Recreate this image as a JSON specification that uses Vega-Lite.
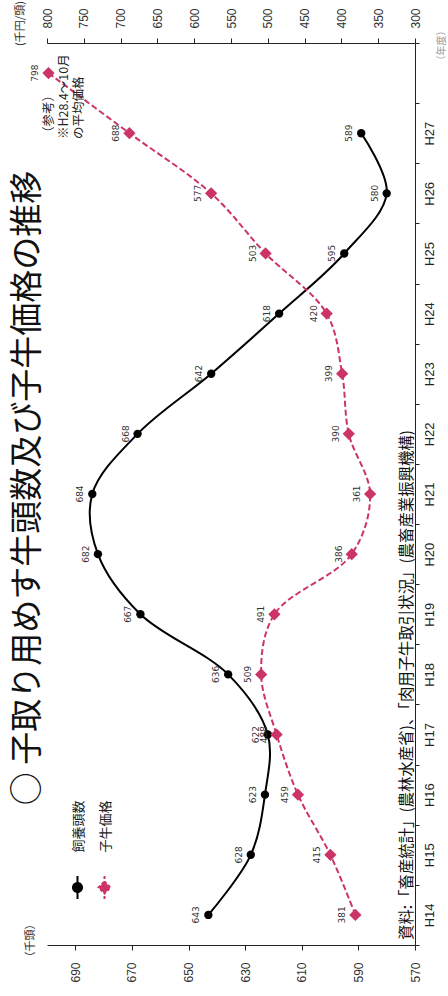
{
  "$schema": "https://vega.github.io/schema/vega-lite/v6.json",
  "width": 368,
  "height": 902,
  "autosize": {"type": "none"},
  "padding": {"left": 47, "top": 43, "right": 33, "bottom": 51},
  "background": "white",
  "config": {
    "view": {"stroke": null},
    "font": "Noto Sans CJK JP",
    "axis": {
      "domainColor": "#222",
      "tickColor": "#222",
      "labelColor": "#333",
      "labelFont": "Liberation Sans",
      "grid": false,
      "titleFont": "Noto Sans CJK JP",
      "titleFontWeight": "normal",
      "titleColor": "#333"
    }
  },
  "title": {
    "text": "○ 子取り用めす牛頭数及び子牛価格の推移",
    "orient": "left",
    "anchor": "middle",
    "fontSize": 33,
    "font": "Noto Sans CJK JP",
    "fontWeight": "normal",
    "color": "#111",
    "offset": 0,
    "dx": 6,
    "dy": 31
  },
  "data": {
    "values": [
      {"year": "H14", "heads": 643, "price": 381, "source": "資料:「畜産統計」(農林水産省)、「肉用子牛取引状況」(農畜産業振興機構)"},
      {"year": "H15", "heads": 628, "price": 415},
      {"year": "H16", "heads": 623, "price": 459},
      {"year": "H17", "heads": 622, "price": 488},
      {"year": "H18", "heads": 636, "price": 509},
      {"year": "H19", "heads": 667, "price": 491},
      {"year": "H20", "heads": 682, "price": 386},
      {"year": "H21", "heads": 684, "price": 361},
      {"year": "H22", "heads": 668, "price": 390},
      {"year": "H23", "heads": 642, "price": 399},
      {"year": "H24", "heads": 618, "price": 420},
      {"year": "H25", "heads": 595, "price": 503},
      {"year": "H26", "heads": 580, "price": 577},
      {"year": "H27", "heads": 589, "price": 688},
      {"year": "H28", "price": 798, "note": "（参考）\n※H28.4～10月\nの平均価格"}
    ]
  },
  "encoding": {
    "y": {
      "field": "year",
      "type": "ordinal",
      "bandPosition": 0.5,
      "scale": {
        "type": "band",
        "domain": ["H28", "H27", "H26", "H25", "H24", "H23", "H22", "H21", "H20", "H19", "H18", "H17", "H16", "H15", "H14"],
        "paddingInner": 0,
        "paddingOuter": 0
      },
      "axis": {
        "orient": "right",
        "tickBand": "extent",
        "labelAngle": 270,
        "labelAlign": "center",
        "labelBaseline": "top",
        "labelFontSize": 13,
        "labelColor": "#222",
        "labelPadding": 4,
        "tickSize": 4,
        "labelExpr": "datum.value == 'H28' ? '' : datum.value",
        "title": "（年度）",
        "titleAngle": 270,
        "titleFontSize": 10,
        "titleColor": "#999",
        "titleX": 26,
        "titleY": 2,
        "titleAlign": "center",
        "titleBaseline": "middle"
      }
    }
  },
  "layer": [
    {
      "encoding": {
        "x": {
          "field": "heads",
          "type": "quantitative",
          "scale": {"domain": [570, 700], "reverse": true, "nice": false, "zero": false},
          "axis": {
            "orient": "bottom",
            "values": [570, 590, 610, 630, 650, 670, 690],
            "labelAngle": 270,
            "labelAlign": "right",
            "labelBaseline": "middle",
            "labelFontSize": 12,
            "tickSize": 5,
            "labelPadding": 12,
            "title": "（千頭）",
            "titleAngle": 270,
            "titleFontSize": 11,
            "titleX": -17,
            "titleY": -5,
            "titleAlign": "center",
            "titleBaseline": "middle"
          }
        }
      },
      "layer": [
        {
          "transform": [{"filter": {"field": "heads", "valid": true}}],
          "mark": {"type": "line", "interpolate": "catmull-rom", "strokeWidth": 2, "orient": "horizontal"},
          "encoding": {
            "order": {"field": "year", "type": "ordinal"},
            "color": {
              "datum": "飼養頭数",
              "type": "nominal",
              "scale": {"domain": ["飼養頭数", "子牛価格"], "range": ["#000000", "#cc3366"]},
              "legend": {
                "title": null,
                "orient": "none",
                "legendX": 24,
                "legendY": 838,
                "direction": "horizontal",
                "padding": 0,
                "symbolSize": 100,
                "symbolStrokeWidth": 2,
                "labelFontSize": 13,
                "labelFont": "Noto Sans CJK JP",
                "labelColor": "#222",
                "labelOffset": 0,
                "columnPadding": 8,
                "encoding": {
                  "symbols": {
                    "shape": {"value": {"expr": "datum.value === '子牛価格' ? 'M0,-2.3V2.3M0,-1.2L1.2,0L0,1.2L-1.2,0Z' : 'M0,-2.3V2.3M0.9,0A0.9,0.9,0,1,1,-0.9,0A0.9,0.9,0,1,1,0.9,0Z'"}},
                    "fill": {"value": {"expr": "datum.value === '子牛価格' ? '#cc3366' : '#000000'"}},
                    "stroke": {"value": {"expr": "datum.value === '子牛価格' ? '#cc3366' : '#000000'"}},
                    "strokeDash": {"value": {"expr": "datum.value === '子牛価格' ? [3,2] : [1,0]"}},
                    "strokeWidth": {"value": 2},
                    "opacity": {"value": 1}
                  },
                  "labels": {
                    "angle": {"value": 270},
                    "align": {"value": "left"},
                    "baseline": {"value": "middle"},
                    "dx": {"value": 35},
                    "dy": {"value": -5}
                  }
                }
              }
            }
          }
        },
        {
          "transform": [{"filter": {"field": "heads", "valid": true}}],
          "mark": {"type": "point", "shape": "circle", "filled": true, "size": 70, "opacity": 1},
          "encoding": {"color": {"datum": "飼養頭数", "type": "nominal"}}
        },
        {
          "transform": [{"filter": {"field": "heads", "valid": true}}],
          "mark": {"type": "text", "angle": 270, "align": "center", "baseline": "bottom", "dy": -7, "fontSize": 9, "font": "DejaVu Sans", "color": "#333"},
          "encoding": {"text": {"field": "heads", "type": "quantitative"}}
        },
        {
          "transform": [{"filter": "isValid(datum.source)"}],
          "mark": {"type": "text", "angle": 270, "align": "left", "baseline": "bottom", "dx": -25, "dy": 0, "fontSize": 15.4, "font": "Noto Sans CJK JP", "color": "#111"},
          "encoding": {
            "x": {"datum": 570, "type": "quantitative"},
            "text": {"field": "source"}
          }
        }
      ]
    },
    {
      "encoding": {
        "x": {
          "field": "price",
          "type": "quantitative",
          "scale": {"domain": [300, 800], "reverse": true, "nice": false, "zero": false},
          "axis": {
            "orient": "top",
            "values": [300, 350, 400, 450, 500, 550, 600, 650, 700, 750, 800],
            "labelAngle": 270,
            "labelAlign": "left",
            "labelBaseline": "middle",
            "labelFontSize": 12,
            "tickSize": 5,
            "labelPadding": 10,
            "title": "(千円/頭)",
            "titleAngle": 270,
            "titleFontSize": 11,
            "titleX": -27,
            "titleY": -20,
            "titleAlign": "center",
            "titleBaseline": "middle"
          }
        }
      },
      "layer": [
        {
          "mark": {"type": "line", "interpolate": "catmull-rom", "strokeWidth": 2, "strokeDash": [6, 3], "orient": "horizontal"},
          "encoding": {
            "order": {"field": "year", "type": "ordinal"},
            "color": {"datum": "子牛価格", "type": "nominal"}
          }
        },
        {
          "mark": {"type": "point", "shape": "diamond", "filled": true, "size": 150, "opacity": 1},
          "encoding": {"color": {"datum": "子牛価格", "type": "nominal"}}
        },
        {
          "mark": {"type": "text", "angle": 270, "align": "center", "baseline": "bottom", "dy": -8, "fontSize": 9, "font": "DejaVu Sans", "color": "#333"},
          "encoding": {"text": {"field": "price", "type": "quantitative"}}
        },
        {
          "transform": [{"filter": "isValid(datum.note)"}],
          "mark": {"type": "text", "angle": 270, "align": "left", "baseline": "top", "lineBreak": "\n", "lineHeight": 15, "dx": -66, "dy": -5, "fontSize": 12.5, "font": "Noto Sans CJK JP", "color": "#222"},
          "encoding": {"text": {"field": "note"}}
        }
      ]
    }
  ],
  "resolve": {"scale": {"x": "independent"}, "axis": {"x": "independent"}}
}
